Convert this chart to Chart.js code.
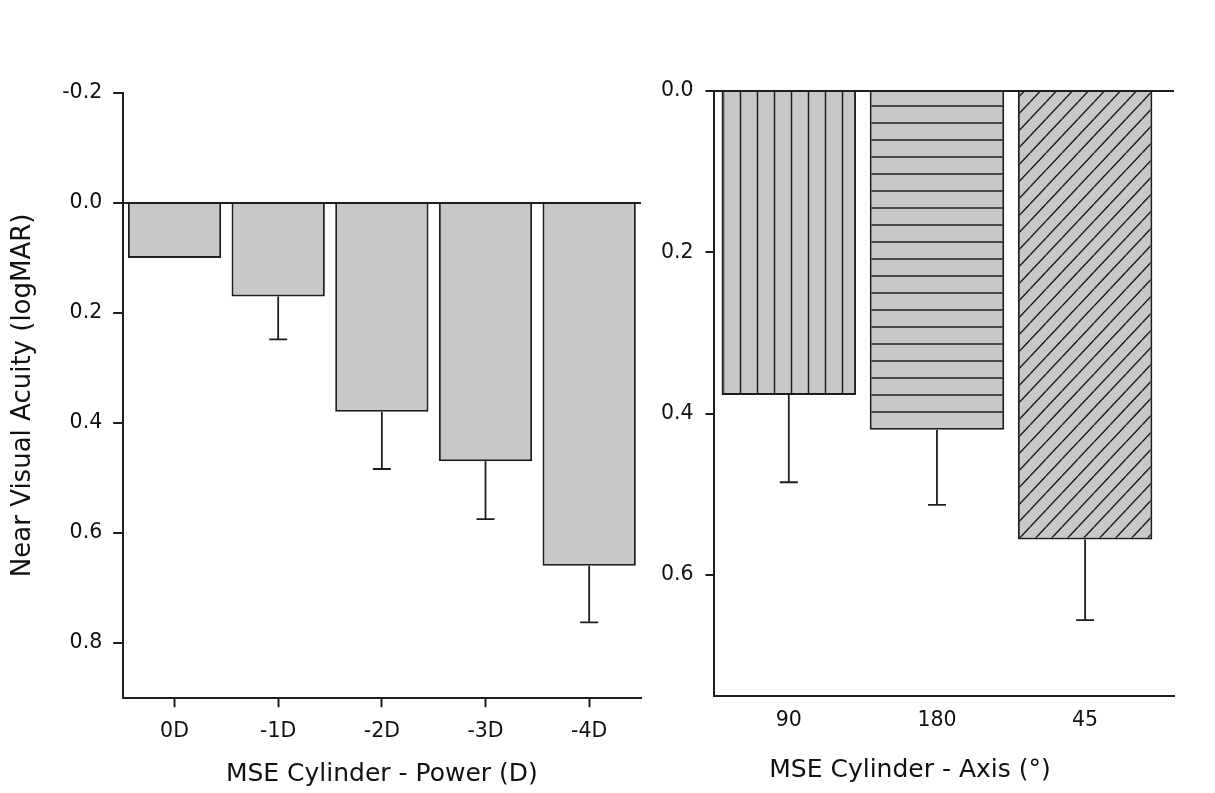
<!DOCTYPE html>
<html><head><meta charset="utf-8">
<script src="https://cdn.jsdelivr.net/npm/chart.js@4.4.1/dist/chart.umd.min.js"></script>
<style>
html,body{margin:0;padding:0;background:#fff;width:1215px;height:793px;overflow:hidden}
#c1{position:absolute;left:0;top:0}
#c2{position:absolute;left:646px;top:0}
</style></head><body>
<canvas id="c1" width="650" height="793"></canvas>
<canvas id="c2" width="532" height="793"></canvas>
<script>
// ---- data ----
const powerCategories = ['0D', '-1D', '-2D', '-3D', '-4D'];
const powerValues = [0.10, 0.17, 0.38, 0.47, 0.66];
const powerErrors = [0, 0.078, 0.104, 0.105, 0.103];
const powerTicks = [-0.2, 0.0, 0.2, 0.4, 0.6, 0.8];

const axisCategories = ['90', '180', '45'];
const axisPositions = [0, 1, 2];
const axisValues = [0.377, 0.42, 0.556];
const axisErrors = [0.108, 0.093, 0.10];
const axisTicks = [0.0, 0.2, 0.4, 0.6];

Chart.defaults.font.family = "'DejaVu Sans', 'Liberation Sans', sans-serif";
Chart.defaults.color = '#111';

const INK = '#1e1e1e';
const FILL = '#c8c8c8';
const LW = 2;

const errorBars = {
  id: 'errorBars',
  afterDatasetsDraw(chart) {
    const ctx = chart.ctx;
    const ys = chart.scales.y;
    chart.data.datasets.forEach((ds, di) => {
      const meta = chart.getDatasetMeta(di);
      ctx.save();
      ctx.strokeStyle = INK;
      ctx.lineWidth = 1.8;
      meta.data.forEach((bar, i) => {
        const e = ds.errors[i];
        if (!e) return;
        const v = ys.getValueForPixel(bar.y);
        const y0 = bar.y;
        const y1 = ys.getPixelForValue(v + e);
        ctx.beginPath();
        ctx.moveTo(bar.x, y0);
        ctx.lineTo(bar.x, y1);
        ctx.moveTo(bar.x - ds.capWidth / 2, y1);
        ctx.lineTo(bar.x + ds.capWidth / 2, y1);
        ctx.stroke();
      });
      ctx.restore();
    });
  }
};

function zeroLine(c) {
  return c.tick && c.tick.value === 0 ? INK : 'rgba(0,0,0,0)';
}

new Chart(document.getElementById('c1'), {
  type: 'bar',
  data: {
    labels: powerCategories,
    datasets: [{
      data: powerValues,
      errors: powerErrors,
      capWidth: 18,
      backgroundColor: FILL,
      borderColor: INK,
      borderWidth: 2,
      borderSkipped: 'start',
      barPercentage: 0.9,
      categoryPercentage: 1
    }]
  },
  options: {
    responsive: false,
    animation: false,
    devicePixelRatio: 1,
    layout: { padding: { top: 93, right: 9, left: 0, bottom: 0 } },
    plugins: { legend: { display: false }, tooltip: { enabled: false } },
    scales: {
      x: {
        offset: true,
        grid: { offset: false, drawOnChartArea: false, drawTicks: true, tickLength: 9.5, tickColor: INK, tickWidth: LW },
        border: { color: INK, width: LW },
        ticks: { font: { size: 20.5 }, padding: 12, maxRotation: 0, autoSkip: false },
        title: { display: true, text: 'MSE Cylinder - Power (D)', font: { size: 25 }, padding: { top: 0, bottom: 4 } },
        afterFit(s) { s.height = 95.3; }
      },
      y: {
        z: 1,
        reverse: true,
        min: -0.2,
        max: 0.9,
        afterBuildTicks(s) { s.ticks = powerTicks.map(v => ({ value: v })); },
        grid: { drawOnChartArea: true, color: zeroLine, lineWidth: LW, tickLength: 9.5, tickColor: INK, tickWidth: LW },
        border: { color: INK, width: LW },
        ticks: { font: { size: 20.5 }, padding: 11, callback: v => Number(v).toFixed(1) },
        title: { display: true, text: 'Near Visual Acuity (logMAR)', font: { size: 26 }, padding: { top: 8, bottom: 0 } },
        afterFit(s) { s.width = 122.7; }
      }
    }
  },
  plugins: [errorBars]
});

// hatch patterns for the right panel
const c2 = document.getElementById('c2');
function makePattern(w, h, draw) {
  const c = document.createElement('canvas');
  c.width = w; c.height = h;
  const g = c.getContext('2d');
  g.fillStyle = FILL;
  g.fillRect(0, 0, w, h);
  g.strokeStyle = INK;
  g.lineWidth = 1.5;
  g.beginPath();
  draw(g, w, h);
  g.stroke();
  return c2.getContext('2d').createPattern(c, 'repeat');
}
const vertical = makePattern(17, 17, (g, w, h) => { g.moveTo(9.5, 0); g.lineTo(9.5, h); });
const horizontal = makePattern(17, 17, (g, w, h) => { g.moveTo(0, 4); g.lineTo(w, 4); });
const diagonal = makePattern(16, 17, (g, w, h) => {
  [-w, 0, w].forEach(x0 => { g.moveTo(x0, h); g.lineTo(x0 + w, 0); });
});

new Chart(c2, {
  type: 'bar',
  data: {
    datasets: [{
      data: axisPositions.map((x, i) => ({ x: x, y: axisValues[i] })),
      errors: axisErrors,
      capWidth: 18,
      backgroundColor: [vertical, horizontal, diagonal],
      borderColor: INK,
      borderWidth: 2,
      borderSkipped: 'start',
      barPercentage: 0.908,
      categoryPercentage: 1
    }]
  },
  options: {
    responsive: false,
    animation: false,
    devicePixelRatio: 1,
    layout: { padding: { top: 91, right: 4, left: 0, bottom: 0 } },
    plugins: {
      legend: { display: false },
      tooltip: { enabled: false },
      title: {
        display: true,
        text: 'MSE Cylinder - Axis (°)',
        position: 'bottom',
        font: { size: 25, weight: 'normal' },
        color: '#111',
        padding: { top: 0, bottom: 8 }
      }
    },
    scales: {
      x: {
        type: 'linear',
        min: -0.505,
        max: 2.6,
        offset: false,
        afterBuildTicks(s) { s.ticks = axisPositions.map(v => ({ value: v })); },
        grid: { offset: false, drawOnChartArea: false, drawTicks: false },
        border: { color: INK, width: LW },
        ticks: { font: { size: 20.5 }, padding: 12, maxRotation: 0, autoSkip: false,
                 callback: v => axisCategories[axisPositions.indexOf(v)] },
        afterFit(s) { s.height = 59; }
      },
      y: {
        z: 1,
        reverse: true,
        min: 0,
        max: 0.75,
        afterBuildTicks(s) { s.ticks = axisTicks.map(v => ({ value: v })); },
        grid: { drawOnChartArea: true, color: zeroLine, lineWidth: LW, tickLength: 8.5, tickColor: INK, tickWidth: LW },
        border: { color: INK, width: LW },
        ticks: { font: { size: 20.5 }, padding: 12, callback: v => Number(v).toFixed(1) },
        afterFit(s) { s.width = 68; }
      }
    }
  },
  plugins: [errorBars]
});
</script>
</body></html>
